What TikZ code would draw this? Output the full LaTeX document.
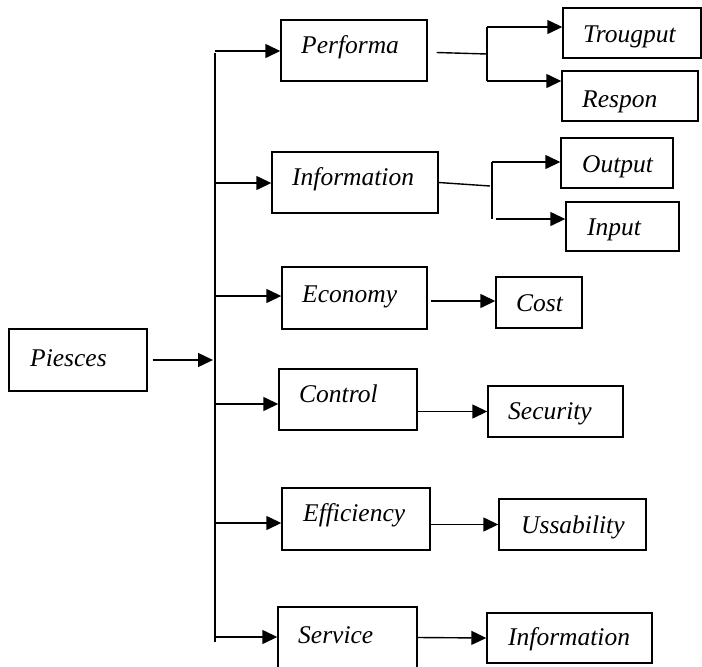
\documentclass[tikz,border=0pt]{standalone}
\usepackage{fontspec}
\setmainfont{Liberation Serif}
\usetikzlibrary{arrows.meta}

\tikzset{
  box/.style={draw, line width=1.4pt, inner sep=0pt},
  lbl/.style={anchor=base west, inner sep=0pt, font=\itshape\fontsize{25.5}{30}\selectfont},
  line/.style={line width=1.4pt},
  arr/.style={line width=1.4pt, -{Triangle[length=15pt,width=14pt]}},
  trunk/.style={line width=2.5pt}
}

\begin{document}
\begin{tikzpicture}[x=1pt, y=-1pt]
\useasboundingbox (0,0) rectangle (702,667);
\clip (0,0) rectangle (702,667);
% boxes: name/left/top/right/bottom/text x/text baseline/text
\foreach \n/\xa/\ya/\xb/\yb/\tx/\ty/\t in {
  pies/9/329/147/391/30/366/Piesces,
  perf/281/20/427/81/301/53/Performa,
  info/272/152/438/213/292/185/Information,
  econ/282/267/427/329/302/302/Economy,
  ctrl/279/369/417/430/299/402/Control,
  effi/282/488/430/550/303/521/Efficiency,
  serv/278/607/417/668/298/643/Service,
  trou/563/8/701/58/583/42/Trougput,
  resp/562/71/698/121/582/107/Respon,
  outp/561/138/673/188/582/172/Output,
  inpt/566/202/679/251/587/235/Input,
  cost/496/277/582/328/516/311/Cost,
  secu/488/386/623/437/508/419/Security,
  ussa/499/499/646/550/521/533/Ussability,
  infb/487/613/652/663/508/645/Information}
{
  \node[box, minimum width={\xb-\xa}, minimum height={\yb-\ya}] (\n) at ({(\xa+\xb)/2},{(\ya+\yb)/2}) {};
  \node[lbl] (\n-t) at (\tx,\ty) {\t};
}

% main trunk
\coordinate (top) at (215,53);
\coordinate (bot) at (215,642);
\draw[trunk] (top) -- (bot);
\draw[arr, shorten >=2pt] ([xshift=5pt]pies.east) -- (pies.east -| top);
\foreach \n/\d in {perf/-0.5, info/-0.5, econ/2, ctrl/-4.5, effi/-4, serv/0.5}
{
  \path ([yshift=\d pt]\n.west) coordinate (\n-in);
  \draw[arr] (top |- \n-in) -- (\n-in);
}

% splits
\coordinate (s1) at (487,54);
\coordinate (s1a) at (487,27);
\coordinate (s1b) at (487,81);
\draw[line] ([xshift=9pt,yshift=-2pt]perf.east) -- (s1);
\draw[line, line width=2pt] (s1a) -- (s1b);
\draw[arr] (s1a) -- (s1a -| trou.west);
\draw[arr] (s1b) -- (s1b -| resp.west);

\coordinate (s2) at (490,186);
\coordinate (s2a) at (492,162);
\coordinate (s2b) at (492,219);
\draw[line] (info.east) -- (s2);
\draw[line, line width=2pt] (s2a) -- (s2b);
\draw[arr] (s2a) -- (s2a -| outp.west);
\draw[arr] ([xshift=4pt]s2b) -- (s2b -| inpt.west);

% single links
\path ([yshift=1.5pt]cost.west) coordinate (cost-in);
\draw[arr] ([xshift=3pt]cost-in -| econ.east) -- (cost-in);
\draw[arr] (secu.west -| ctrl.east) -- (secu.west);
\draw[arr] (ussa.west -| effi.east) -- (ussa.west);
\draw[arr] (serv.east) -- (infb.west);
\end{tikzpicture}
\end{document}
